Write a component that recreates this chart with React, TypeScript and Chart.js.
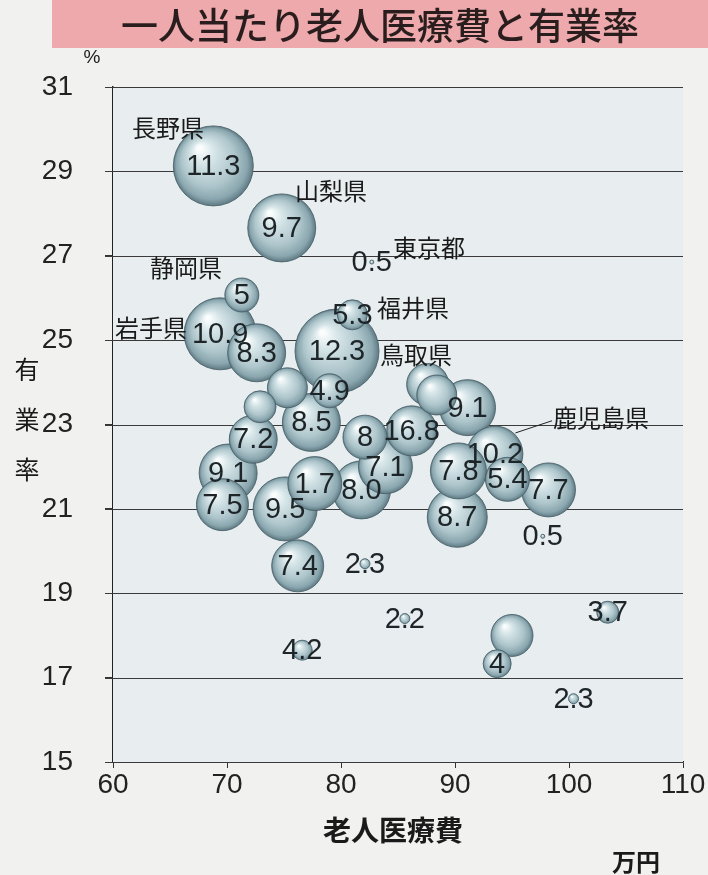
import React, { useEffect, useRef } from "react";
import { Chart, registerables } from "chart.js";

Chart.register(...registerables);

// 老人医療費 (万円)
const medicalCost = [79.65, 68.8, 69.4, 74.8, 75.1, 90.2, 72.6, 77.4, 81.8, 70.1, 91.1, 93.5, 90.3, 77.7, 83.9, 98.2, 69.6, 76.2, 86.2, 72.3, 87.6, 88.4, 94.6, 82.1, 75.3, 95.0, 72.9, 79.0, 71.3, 81.0, 93.7, 103.4, 76.6, 82.1, 85.6, 100.4, 82.7, 97.7];
// 有業率 (%)
const employmentRate = [24.74, 29.13, 25.15, 27.66, 21.0, 20.8, 24.7, 23.05, 21.45, 21.85, 23.4, 22.3, 21.9, 21.6, 22.0, 21.45, 21.1, 19.65, 22.85, 22.65, 23.95, 23.7, 21.7, 22.7, 23.87, 18.0, 23.42, 23.8, 26.07, 25.6, 17.33, 18.55, 17.65, 19.7, 18.4, 16.5, 26.85, 20.35];
// bubble size (radius)
const bubbleSize = [42, 40, 36, 34, 32, 30, 29, 29, 29, 29, 28, 28, 28, 27, 27, 27, 26, 26, 25, 24, 21, 20, 22, 22, 20, 21, 16, 17, 17, 15, 14, 11, 10, 5, 5, 5, 2, 2];
const valueLabels = ["12.3", "11.3", "10.9", "9.7", "9.5", "8.7", "8.3", "8.5", "8.0", "9.1", "9.1", "10.2", "7.8", "1.7", "7.1", "7.7", "7.5", "7.4", "16.8", "7.2", "", "", "5.4", "8", "", "", "", "4.9", "5", "5.3", "4", "3.7", "4.2", "2.3", "2.2", "2.3", "0.5", "0.5"];

const prefNames = ["長野県", "山梨県", "東京都", "静岡県", "岩手県", "福井県", "鳥取県", "鹿児島県"];
const prefNameX = [61.67, 75.96, 84.56, 63.25, 60.18, 83.16, 83.42, 98.6];
const prefNameY = [30.03, 28.54, 27.18, 26.71, 25.3, 25.76, 24.65, 23.16];

const xTicks = [60, 70, 80, 90, 100, 110];
const yTicks = [15, 17, 19, 21, 23, 25, 27, 29, 31];

const TITLE = "一人当たり老人医療費と有業率";
const X_TITLE = "老人医療費";
const X_UNIT = "万円";
const Y_TITLE = ["有", "業", "率"];
const Y_UNIT = "%";

const JP = '"Noto Sans CJK JP", "Noto Sans", sans-serif';
const NUM = '"Liberation Sans", Arial, sans-serif';

const decor = {
  id: "decor",
  beforeDatasetsDraw(chart: any) {
    const { ctx, chartArea: a } = chart;
    ctx.save();
    ctx.fillStyle = "#e8edef";
    ctx.fillRect(a.left, a.top, a.right - a.left, a.bottom - a.top);
    const ys = chart.scales.y;
    ctx.strokeStyle = "#3a3a3a";
    ctx.lineWidth = 1.2;
    yTicks.forEach((v) => {
      const py = Math.round(ys.getPixelForValue(v)) + 0.5;
      ctx.beginPath();
      ctx.moveTo(a.left - 8, py);
      ctx.lineTo(a.right, py);
      ctx.stroke();
    });
    ctx.restore();
  },
  afterDatasetsDraw(chart: any) {
    const ctx = chart.ctx;
    const xs = chart.scales.x;
    const ys = chart.scales.y;
    ctx.save();
    ctx.fillStyle = "#1d2528";
    ctx.textAlign = "center";
    ctx.textBaseline = "middle";
    ctx.font = `29px ${NUM}`;
    valueLabels.forEach((t, i) => {
      if (!t) return;
      ctx.fillText(t, xs.getPixelForValue(medicalCost[i]), ys.getPixelForValue(employmentRate[i]) + 1);
    });
    ctx.textAlign = "left";
    ctx.font = `24px ${JP}`;
    ctx.fillStyle = "#1a1a1a";
    prefNames.forEach((n, i) => {
      ctx.fillText(n, xs.getPixelForValue(prefNameX[i]), ys.getPixelForValue(prefNameY[i]));
    });
    const k = prefNames.indexOf("鹿児島県");
    ctx.strokeStyle = "#222";
    ctx.lineWidth = 1;
    ctx.beginPath();
    ctx.moveTo(xs.getPixelForValue(prefNameX[k]) - 1, ys.getPixelForValue(prefNameY[k]) + 3);
    ctx.lineTo(xs.getPixelForValue(95.3), ys.getPixelForValue(22.8));
    ctx.stroke();
    ctx.restore();
  },
  afterDraw(chart: any) {
    const ctx = chart.ctx;
    const a = chart.chartArea;
    ctx.save();
    ctx.fillStyle = "#1a1a1a";
    ctx.textAlign = "center";
    ctx.textBaseline = "middle";
    ctx.font = `19px ${NUM}`;
    ctx.fillText(Y_UNIT, a.left - 21, 58);
    ctx.font = `25px ${JP}`;
    const ys = chart.scales.y;
    const mid = ys.getPixelForValue(23);
    Y_TITLE.forEach((c, i) => {
      ctx.fillText(c, 27, mid + (i - 1) * 50 - 5);
    });
    ctx.font = `bold 28px ${JP}`;
    ctx.fillText(X_TITLE, 393, 830);
    ctx.font = `bold 24px ${JP}`;
    ctx.fillText(X_UNIT, 636, 862);
    ctx.restore();
  },
};

export default function App() {
  const ref = useRef<HTMLCanvasElement>(null);
  useEffect(() => {
    document.body.style.margin = "0";
    const canvas = ref.current!;
    const data = medicalCost.map((x, i) => ({ x, y: employmentRate[i], r: bubbleSize[i] }));
    const chart = new Chart(canvas, {
      type: "bubble",
      data: {
        datasets: [
          {
            data,
            borderColor: "rgba(70,95,104,0.85)",
            borderWidth: 1,
            clip: false,
            backgroundColor: (c: any) => {
              if (c.type !== "data") return "#b9ccd1";
              const ch = c.chart;
              const xs = ch.scales && ch.scales.x;
              const ys = ch.scales && ch.scales.y;
              if (!xs || !ys) return "#b9ccd1";
              const i = c.dataIndex;
              const px = xs.getPixelForValue(medicalCost[i]);
              const py = ys.getPixelForValue(employmentRate[i]);
              if (!isFinite(px) || !isFinite(py)) return "#b9ccd1";
              const r = Math.max(bubbleSize[i], 1);
              const g = ch.ctx.createRadialGradient(px - r * 0.35, py - r * 0.45, r * 0.05, px, py, r);
              g.addColorStop(0, "#fbfdfd");
              g.addColorStop(0.25, "#d6e5e8");
              g.addColorStop(0.65, "#adc5cb");
              g.addColorStop(0.88, "#8aa6ae");
              g.addColorStop(1, "#5f7a83");
              return g;
            },
          },
        ],
      },
      options: {
        responsive: false,
        animation: false,
        events: [],
        layout: { autoPadding: false, padding: { top: 87, left: 0, right: 25, bottom: 68 } },
        plugins: {
          legend: { display: false },
          tooltip: { enabled: false },
          title: { display: false },
        },
        scales: {
          x: {
            type: "linear",
            min: 60,
            max: 110,
            afterBuildTicks: (s: any) => {
              s.ticks = xTicks.map((v) => ({ value: v }));
            },
            afterFit: (s: any) => {
              s.height = 45;
              s.paddingLeft = 0;
              s.paddingRight = 0;
            },
            grid: { drawOnChartArea: false, tickLength: 6, color: "#333", lineWidth: 1 },
            border: { color: "#222", width: 1.5 },
            ticks: { color: "#222", font: { size: 28, family: NUM }, padding: 0, maxRotation: 0 },
          },
          y: {
            type: "linear",
            min: 15,
            max: 31,
            afterBuildTicks: (s: any) => {
              s.ticks = yTicks.map((v) => ({ value: v }));
            },
            afterFit: (s: any) => {
              s.width = 113;
              s.paddingTop = 0;
              s.paddingBottom = 0;
            },
            grid: { drawOnChartArea: false, tickLength: 8, color: "#333", lineWidth: 1 },
            border: { color: "#222", width: 1.5 },
            ticks: { color: "#222", font: { size: 28, family: NUM }, padding: 32 },
          },
        },
      },
      plugins: [decor],
    });
    chart.update();
    return () => chart.destroy();
  }, []);

  return (
    <div style={{ position: "relative", width: 708, height: 875, background: "#f1f2ef", overflow: "hidden" }}>
      <canvas ref={ref} width={708} height={875} style={{ position: "absolute", left: 0, top: 0 }} />
      <div
        style={{
          position: "absolute",
          left: 52,
          top: 0,
          width: 656,
          height: 48,
          background: "#eda9ab",
          color: "#2a1d1d",
          fontFamily: JP,
          fontSize: 37,
          fontWeight: 500,
          lineHeight: "48px",
          textAlign: "center",
          whiteSpace: "nowrap",
        }}
      >
        {TITLE}
      </div>
    </div>
  );
}
